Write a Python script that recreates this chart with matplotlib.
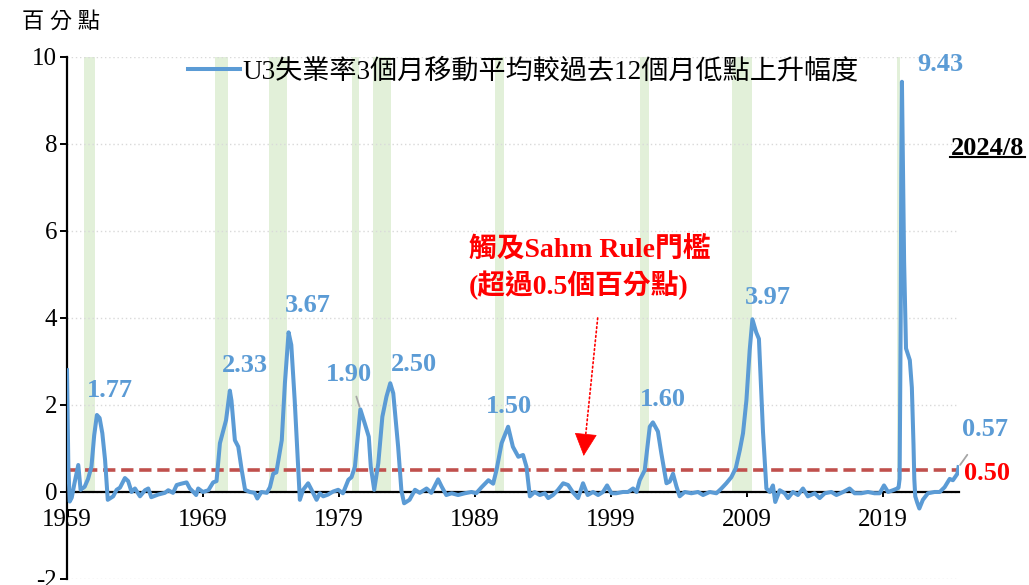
import matplotlib
matplotlib.use("Agg")
import matplotlib.pyplot as plt
from matplotlib.lines import Line2D

plt.rcParams['font.family'] = ['Liberation Serif', 'Noto Sans CJK TC']
plt.rcParams['axes.unicode_minus'] = False

# Sahm rule: 3個月移動平均失業率較過去12個月低點的上升幅度 (年份, 百分點)
years = [
    1959.00, 1959.10, 1959.20, 1959.35, 1959.55, 1959.83, 1960.00, 1960.30, 1960.55, 1960.80,
    1961.00, 1961.20, 1961.40, 1961.60, 1961.80, 1962.00, 1962.40, 1962.65, 1962.90, 1963.26,
    1963.50, 1963.75, 1964.00, 1964.37, 1964.74, 1964.98, 1965.20, 1965.70, 1966.20, 1966.45,
    1966.80, 1967.07, 1967.40, 1967.80, 1968.04, 1968.30, 1968.50, 1968.65, 1969.00, 1969.40,
    1969.75, 1970.00, 1970.25, 1970.50, 1970.70, 1970.98, 1971.10, 1971.35, 1971.60, 1971.85,
    1972.10, 1972.45, 1972.80, 1973.00, 1973.30, 1973.70, 1973.93, 1974.17, 1974.40, 1974.80,
    1975.03, 1975.30, 1975.50, 1975.75, 1976.00, 1976.13, 1976.37, 1976.74, 1976.99, 1977.36,
    1977.60, 1977.85, 1978.20, 1978.58, 1978.95, 1979.30, 1979.70, 1979.93, 1980.18, 1980.58,
    1980.90, 1981.20, 1981.35, 1981.60, 1981.90, 1982.20, 1982.50, 1982.78, 1983.00, 1983.36,
    1983.60, 1983.80, 1984.20, 1984.60, 1984.95, 1985.45, 1985.80, 1986.30, 1986.55, 1986.90,
    1987.30, 1987.77, 1988.26, 1988.76, 1989.10, 1989.50, 1990.00, 1990.35, 1990.60, 1990.97,
    1991.45, 1991.80, 1992.20, 1992.55, 1992.80, 1993.05, 1993.40, 1993.78, 1994.15, 1994.40,
    1994.75, 1995.10, 1995.50, 1995.86, 1996.20, 1996.60, 1996.96, 1997.30, 1997.70, 1998.07,
    1998.43, 1998.73, 1999.05, 1999.40, 1999.90, 2000.27, 2000.64, 2000.90, 2001.13, 2001.50,
    2001.87, 2002.10, 2002.47, 2002.72, 2003.10, 2003.34, 2003.58, 2003.83, 2004.07, 2004.44,
    2004.93, 2005.42, 2005.79, 2006.28, 2006.77, 2007.14, 2007.50, 2007.87, 2008.20, 2008.50,
    2008.73, 2008.98, 2009.22, 2009.42, 2009.70, 2009.90, 2010.20, 2010.45, 2010.70, 2010.93,
    2011.10, 2011.43, 2011.80, 2012.04, 2012.40, 2012.77, 2013.14, 2013.50, 2014.00, 2014.37,
    2014.74, 2015.23, 2015.60, 2016.10, 2016.57, 2016.94, 2017.43, 2017.92, 2018.40, 2018.78,
    2019.10, 2019.40, 2019.76, 2020.08, 2020.17, 2020.25, 2020.33, 2020.37, 2020.42, 2020.58,
    2020.72, 2021.00, 2021.15, 2021.27, 2021.33, 2021.40, 2021.55, 2021.70, 2021.96, 2022.33,
    2022.82, 2023.20, 2023.56, 2023.93, 2024.17, 2024.50, 2024.58,
]
values = [
    2.80, 0.60, -0.22, -0.13, 0.20, 0.62, 0.05, 0.12, 0.30, 0.58,
    1.30, 1.77, 1.70, 1.35, 0.74, -0.18, -0.10, 0.05, 0.10, 0.32,
    0.25, 0.00, 0.08, -0.10, 0.04, 0.08, -0.12, -0.06, -0.02, 0.04,
    -0.02, 0.16, 0.19, 0.22, 0.08, 0.00, -0.07, 0.08, 0.00, 0.04,
    0.22, 0.25, 1.12, 1.42, 1.65, 2.33, 2.10, 1.19, 1.04, 0.51,
    0.05, 0.00, -0.02, -0.15, 0.00, -0.02, 0.11, 0.42, 0.45, 1.19,
    2.50, 3.67, 3.38, 2.11, 0.58, -0.18, 0.05, 0.20, 0.05, -0.18,
    -0.03, -0.10, -0.06, 0.01, 0.05, -0.03, 0.28, 0.34, 0.58, 1.90,
    1.58, 1.27, 0.58, 0.05, 0.66, 1.73, 2.19, 2.50, 2.27, 1.04,
    0.03, -0.26, -0.18, 0.05, -0.02, 0.08, -0.02, 0.29, 0.13, -0.07,
    -0.03, -0.07, -0.03, 0.00, -0.03, 0.11, 0.27, 0.19, 0.51, 1.12,
    1.50, 1.04, 0.81, 0.85, 0.58, -0.10, 0.00, -0.07, -0.03, -0.14,
    -0.07, 0.04, 0.20, 0.16, 0.00, -0.14, 0.20, -0.07, 0.00, -0.07,
    0.00, 0.15, -0.03, -0.03, 0.00, 0.00, 0.08, 0.00, 0.27, 0.50,
    1.50, 1.60, 1.39, 0.89, 0.20, 0.24, 0.42, 0.13, -0.10, 0.00,
    -0.03, 0.00, -0.07, 0.00, -0.03, 0.08, 0.20, 0.34, 0.55, 0.97,
    1.35, 2.11, 3.26, 3.97, 3.67, 3.52, 1.38, 0.08, 0.00, 0.15,
    -0.23, 0.04, -0.03, -0.14, 0.00, -0.07, 0.08, -0.10, -0.03, -0.14,
    -0.03, 0.00, -0.07, 0.00, 0.08, -0.03, -0.03, 0.00, -0.03, -0.03,
    0.15, 0.00, 0.04, 0.08, 0.10, 0.30, 4.00, 7.30, 9.43, 5.30,
    3.30, 3.03, 2.40, 1.10, 0.30, -0.10, -0.25, -0.38, -0.18, -0.03,
    0.00, 0.00, 0.11, 0.30, 0.27, 0.42, 0.57,
]

# NBER 衰退期間
rec_start = [1960.25, 1969.92, 1973.83, 1980.00, 1981.50, 1990.50, 2001.17, 2007.92, 2020.08]
rec_end = [1961.08, 1970.83, 1975.17, 1980.50, 1982.83, 1991.17, 2001.83, 2009.42, 2020.25]

# 高點標註: 年份, 數值, 文字位移(像素)
peak_years = [1961.20, 1970.98, 1975.30, 1980.58, 1982.78, 1991.45, 2002.10, 2009.42, 2020.42]
peak_vals = [1.77, 2.33, 3.67, 1.90, 2.50, 1.50, 1.60, 3.97, 9.43]
peak_offsets = [(13, 24), (15, 25), (19, 27), (-11, 35), (24, 19), (1, 20), (10, 23), (15, 22), (38, 17)]

threshold = 0.5
xticks = [1959, 1969, 1979, 1989, 1999, 2009, 2019]
yticks = [-2, 0, 2, 4, 6, 8, 10]

blue = '#5B9BD5'

fig = plt.figure(figsize=(10.29, 5.85), dpi=100)
ax = fig.add_axes([0.0651, 0.0103, 0.8669, 0.8923])

# 衰退區間 (淺綠)
for s, e in zip(rec_start, rec_end):
    ax.fill_between([s, e], 0, 10, color='#E2F0D9', lw=0, zorder=0)

ax.plot(years, values, color=blue, lw=2.9, solid_joinstyle='round',
        label='U3失業率3個月移動平均較過去12個月低點上升幅度', zorder=3)
ax.axhline(threshold, color='#C0504D', lw=2.6, dashes=(3.4, 1.6), zorder=2)

ax.set_xlim(1959, 2024.62)
ax.set_ylim(-2, 10)
ax.set_xticks(xticks)
ax.set_yticks(yticks)
ax.set_xticklabels([str(t) for t in xticks])
ax.set_yticklabels([str(t) for t in yticks])

ax.spines['top'].set_visible(False)
ax.spines['right'].set_visible(False)
ax.spines['bottom'].set_position(('data', 0))
ax.spines['bottom'].set_linewidth(1.6)
ax.spines['left'].set_linewidth(1.6)
ax.tick_params(axis='y', direction='out', length=5, width=1.4, pad=2, labelsize=18)
ax.tick_params(axis='x', direction='out', length=3.5, width=1.4, pad=9, labelsize=18)
ax.yaxis.grid(True, color='#D9D9D9', linestyle=(0, (1, 2)), lw=1)
ax.set_axisbelow(True)

fig.text(0.0593, 0.962, '百 分 點', fontsize=16, ha='center', va='center')

ax.legend(loc='center left', bbox_to_anchor=(0.183, 0.877), bbox_transform=fig.transFigure,
          frameon=False, fontsize=19.5, handlelength=1.9, handletextpad=0.1,
          borderpad=0, borderaxespad=0)

# 高點數值標註
for yr, v, off in zip(peak_years, peak_vals, peak_offsets):
    if v == 1.90:
        ax.annotate(f'{v:.2f}', xy=(yr, v), xytext=off, textcoords='offset pixels',
                    ha='center', va='center', fontsize=19, fontweight='bold', color=blue,
                    arrowprops=dict(arrowstyle='-', color='#A6A6A6', lw=1.3,
                                    shrinkA=6, shrinkB=2))
    else:
        ax.annotate(f'{v:.2f}', xy=(yr, v), xytext=off, textcoords='offset pixels',
                    ha='center', va='center', fontsize=19, fontweight='bold', color=blue)

# 最新一期
ax.annotate(f'{values[-1]:.2f}', xy=(years[-1], values[-1]), xytext=(27, 38),
            textcoords='offset pixels', ha='center', va='center', fontsize=19,
            fontweight='bold', color=blue, annotation_clip=False,
            arrowprops=dict(arrowstyle='-', color='#A6A6A6', lw=1.3, shrinkA=10, shrinkB=2))
ax.annotate(f'{threshold:.2f}', xy=(years[-1], threshold), xytext=(29, -3),
            textcoords='offset pixels', ha='center', va='center', fontsize=19,
            fontweight='bold', color='red', annotation_clip=False)

ax.text(1997.46, 5.59, '觸及Sahm Rule門檻', ha='center', va='center',
        fontsize=20, fontweight='bold', color='red')
ax.text(1996.65, 4.76, '(超過0.5個百分點)', ha='center', va='center',
        fontsize=20, fontweight='bold', color='red')

# 點線箭頭: 細點線 + 實心三角箭頭
ax.annotate('', xy=(1997.12, 1.2), xytext=(1998.04, 4.0),
            arrowprops=dict(arrowstyle='-', linestyle=':', color='red', lw=1.2,
                            shrinkA=0, shrinkB=0))
ax.annotate('', xy=(1997.01, 0.83), xytext=(1997.14, 1.25),
            arrowprops=dict(arrowstyle='-|>,head_length=0.6,head_width=0.3',
                            color='red', lw=0.5, mutation_scale=25,
                            shrinkA=0, shrinkB=0))

fig.text(0.9597, 0.747, '2024/8', ha='center', va='center', fontsize=19,
         fontweight='bold', color='black')
fig.add_artist(Line2D([0.923, 0.996], [0.732, 0.732], color='black', lw=1.5,
                      transform=fig.transFigure))

plt.savefig('out.png', dpi=100)
